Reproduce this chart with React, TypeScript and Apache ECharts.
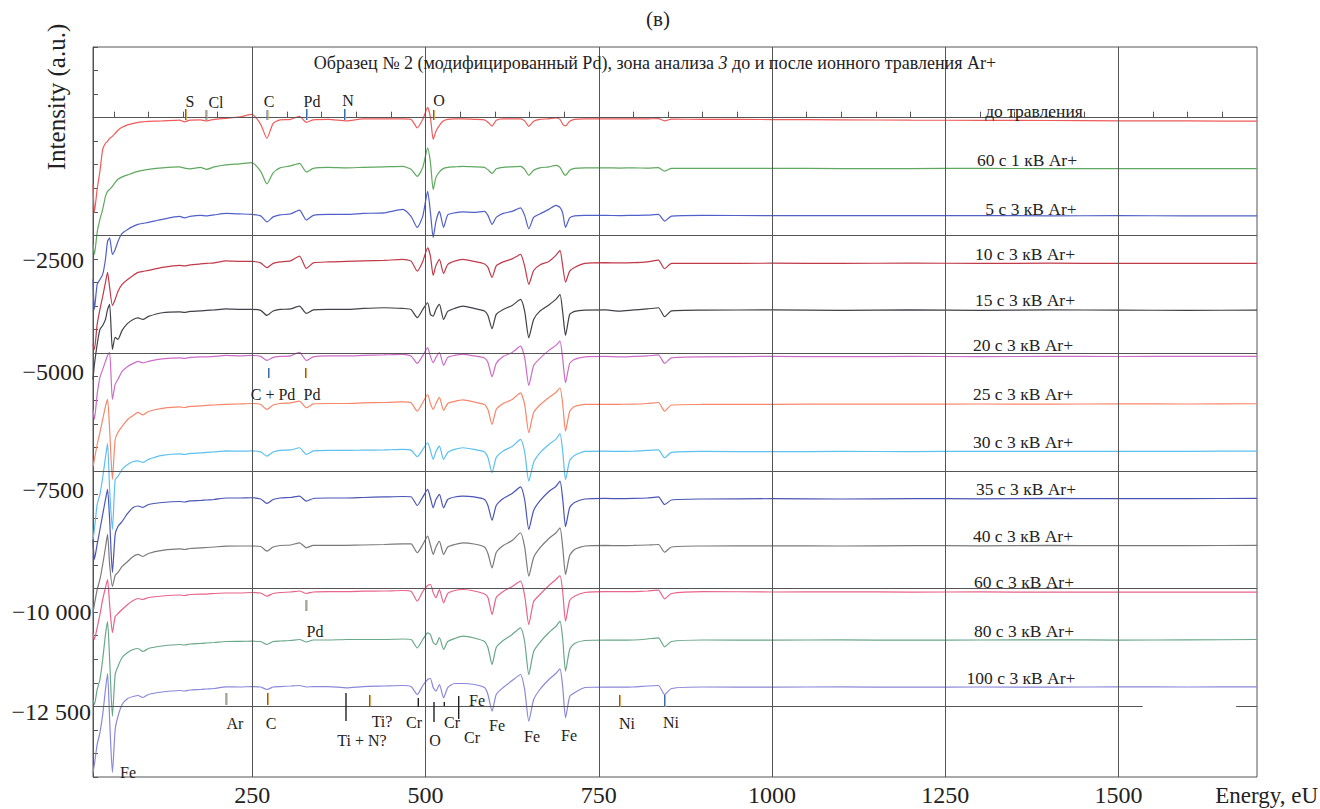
import React, { useEffect, useRef } from 'react';
import * as echarts from 'echarts';

// Energy grid (eV) shared by all spectra
const ENERGY = [20, 22, 26, 30, 34, 38, 41, 44, 48, 52, 56, 62, 70, 78, 85, 92, 100, 120, 145, 152, 160, 175, 184, 195, 212, 232, 249, 262, 271, 280, 290, 305, 318, 328, 338, 360, 386, 410, 440, 467, 479, 488, 496, 503, 507, 511, 515, 520, 526, 532, 542, 554, 570, 585, 590, 596, 602, 612, 625, 637, 643, 649, 656, 665, 678, 688, 694, 698, 702, 708, 715, 730, 760, 780, 800, 820, 836, 845, 855, 900, 1000, 1100, 1200, 1300, 1400, 1500, 1600, 1700];

// Baseline level of each spectrum (a.u.)
const OFFSETS = [-74, -1083, -2086, -3095, -4087, -5091, -6090, -7098, -8116, -9116, -10104, -11123, -12121];

// Deviation of each spectrum from its baseline (a.u.)
const DEV_1 = [-1342, -1937, -1445, -1062, -600, -470, -430, -365, -323, -260, -195, -132, -80, -47, -25, -15, -5, 5, 23, -15, 23, 28, 6, 38, 60, 90, 144, -68, -365, -47, 28, 38, 102, -25, 28, 38, 6, 49, 49, 49, 38, -142, 38, 293, 81, -387, -217, -89, 6, 38, 49, 49, 38, 28, -25, -104, 17, 49, 49, 49, 6, -110, -4, 38, 49, 70, 38, -68, -100, -4, 38, 49, 49, 49, 49, 49, 53, 6, 42, 38, 34, 28, 21, 17, 13, 6, 4, 0];
const DEV_2 = [-1608, -1820, -1353, -1077, -864, -588, -482, -440, -376, -291, -227, -174, -132, -89, -57, -36, -15, 17, 38, 11, -4, 28, -15, 38, 81, 102, 127, -57, -323, -89, 17, 59, 113, -72, 6, 28, 17, 28, 38, 49, -15, -164, 28, 442, 134, -440, -185, -68, 6, 28, 38, 49, 38, 28, -25, -100, -4, 28, 38, 49, -15, -142, -36, 17, 38, 70, 28, -79, -142, -36, 6, 17, 17, 13, 17, 11, 21, -51, 6, 6, 6, 2, 2, 6, 0, 0, 2, 0];
const DEV_3 = [-1349, -1986, -1455, -1349, -1243, -920, -542, -467, -818, -712, -542, -372, -287, -223, -180, -159, -138, -74, -11, -42, -11, 11, 0, 21, 53, 42, 32, 0, -127, -21, 21, 42, 123, -89, 11, 32, 32, 53, 64, 138, -11, -244, -4, 520, 74, -457, -117, 96, -244, 21, 64, 85, 74, 96, 11, -180, -32, 53, 96, 170, 11, -276, -32, 42, 138, 223, 180, 53, -244, -42, 0, 11, 11, 6, 11, 15, 32, -110, -4, 11, 6, 8, 4, 6, 2, 4, 2, 0];
const DEV_4 = [-1720, -1827, -1296, -977, -701, -404, -191, -510, -892, -765, -595, -446, -340, -255, -191, -170, -149, -85, -42, -53, -32, -11, 0, 11, 53, 42, 42, 11, -91, 0, 32, 53, 155, -106, 11, 32, 42, 53, 64, 85, 49, -164, 42, 333, 155, -255, -42, 85, -212, -21, 49, 85, 42, -11, -85, -297, -53, 32, 96, 191, -57, -446, -149, -32, 42, 170, 276, -64, -397, -164, -85, 0, 15, 11, 15, 32, 70, -113, 0, 0, 4, 0, 6, 0, 4, 0, 2, 0];
const DEV_5 = [-1472, -1160, -727, -409, -325, -197, 15, 121, -834, -579, -621, -430, -282, -198, -166, -198, -134, -55, -38, -49, -28, -17, -6, 4, 25, 15, 15, -6, -113, -17, 15, 25, 85, -70, 4, 15, 15, 36, 51, 36, 15, -161, 15, 157, -91, -127, 15, 121, -198, -28, 36, 85, 36, -17, -113, -395, -91, 15, 100, 227, -21, -586, -198, -21, 110, 227, 333, -55, -537, -91, -28, 0, 4, -21, 4, 25, 51, -140, -17, 0, 4, -4, 6, -6, 4, 0, -4, 0];
const DEV_6 = [-1105, -1317, -786, -425, -255, -85, 42, 106, -892, -573, -467, -297, -191, -127, -85, -117, -85, -32, -11, -21, 0, 11, 11, 21, 42, 32, 42, 21, -64, 0, 21, 32, 106, -64, 11, 32, 32, 42, 53, 64, 28, -127, 42, 206, 21, -113, 0, 100, -170, 0, 42, 64, 32, -11, -106, -410, -127, 21, 106, 240, 0, -595, -170, -21, 149, 255, 346, -42, -537, -127, -42, 11, 21, 11, 21, 32, 53, -127, -11, 11, 21, 15, 21, 17, 21, 19, 23, 21];
const DEV_7 = [-1317, -1168, -850, -595, -319, -42, 106, -531, -1593, -743, -595, -467, -319, -234, -170, -223, -149, -85, -53, -64, -42, -32, -21, -11, 0, 11, 21, 0, -106, -11, 21, 32, 70, -70, 11, 21, 21, 32, 42, 53, 36, -142, 42, 212, 21, -106, 21, 149, -127, 21, 64, 96, 53, 0, -106, -425, -106, 21, 106, 248, 0, -601, -170, -11, 149, 255, 355, 0, -567, -149, -42, 0, 0, 4, 6, 21, 42, -142, -11, 0, 4, 8, 6, 10, 8, 12, 10, 15];
const DEV_8 = [-1859, -1646, -1115, -903, -542, -117, 181, -797, -1646, -584, -520, -372, -266, -202, -191, -223, -159, -74, -42, -53, -32, -21, -11, 0, 21, 17, 21, 0, -89, 0, 32, 42, 89, -53, 21, 32, 32, 38, 42, 53, 38, -102, 53, 195, 32, -159, 11, 123, -159, -11, 53, 89, 53, 0, -117, -442, -117, 21, 117, 266, 0, -620, -223, -21, 159, 266, 387, 0, -584, -181, -74, 11, 17, 11, 17, 32, 42, -123, -11, 11, 6, 11, 8, 13, 10, 12, 14, 17];
const DEV_9 = [-841, -1266, -947, -629, -310, 8, 221, -416, -1542, -735, -565, -459, -289, -161, -130, -161, -98, -55, -34, -45, -23, -13, -2, 8, 40, 40, 45, 19, -76, 8, 40, 51, 79, -28, 30, 40, 40, 51, 62, 72, 66, -119, 62, 221, 40, -168, 8, 115, -168, 8, 62, 79, 62, 8, -119, -431, -119, 30, 136, 278, 8, -629, -225, -23, 178, 285, 397, 8, -571, -161, -55, 19, 30, 25, 30, 40, 62, -98, -2, 19, 25, 19, 28, 23, 30, 25, 28, 30];
const DEV_10 = [-1391, -1221, -903, -690, -372, -11, 266, -372, -839, -605, -542, -414, -308, -202, -159, -202, -138, -74, -42, -53, -32, -21, -11, 0, 17, 21, 21, 11, -89, 0, 32, 42, 89, -17, 32, 32, 36, 42, 53, 64, 68, -123, 53, 229, 42, -159, 0, 117, -159, 0, 53, 89, 64, 0, -138, -442, -117, 32, 138, 302, 0, -620, -223, -21, 181, 297, 408, -11, -584, -181, -53, 21, 32, 28, 32, 42, 53, -110, 0, 21, 25, 21, 30, 25, 32, 28, 30, 32];
const DEV_11 = [-828, -977, -722, -446, -127, 127, 297, -234, -828, -489, -425, -340, -234, -149, -106, -127, -85, -53, -32, -42, -21, -11, -11, 0, 11, 11, 21, 11, -57, 0, 21, 32, 53, 0, 32, 42, 42, 49, 53, 64, 49, -164, 42, 170, 191, 21, -91, 85, -198, 0, 64, 85, 53, -11, -85, -446, -85, 42, 149, 261, -42, -658, -170, -21, 170, 297, 382, 21, -588, -149, -57, 21, 42, 38, 42, 53, 70, -113, 0, 42, 32, 36, 30, 34, 28, 32, 30, 28];
const DEV_12 = [-1232, -1338, -1020, -807, -382, 149, 425, -382, -1587, -701, -531, -340, -234, -170, -149, -212, -149, -96, -64, -74, -53, -42, -32, -21, 0, 4, 6, 0, -64, 0, 11, 21, 42, -11, 32, 32, 42, 42, 42, 53, 42, -134, 42, 185, 149, -21, -64, 85, -170, 0, 64, 113, 74, 0, -127, -488, -127, 21, 149, 291, 0, -701, -212, -21, 191, 319, 431, 42, -631, -170, -42, 21, 32, 28, 32, 53, 79, -113, 0, 32, 30, 34, 28, 32, 36, 30, 34, 42];
const DEV_13 = [-1784, -1614, -1190, -935, -552, -21, 319, -658, -1784, -871, -595, -340, -212, -170, -149, -191, -127, -74, -42, -53, -32, -21, -11, 0, 36, 32, 42, 32, -21, 32, 42, 53, 64, 32, 42, 42, 15, 42, 53, 64, 42, -127, 64, 191, 212, 21, -57, 85, -198, 21, 106, 106, 85, 21, -127, -482, -127, 21, 170, 297, -21, -695, -234, -21, 191, 319, 418, 21, -622, -170, -91, 21, 32, 28, 32, 53, 64, -127, 0, 32, 30, 34, 28, 32, 30, 34, 32, 36];

const DEVS = [DEV_1, DEV_2, DEV_3, DEV_4, DEV_5, DEV_6, DEV_7, DEV_8, DEV_9, DEV_10, DEV_11, DEV_12, DEV_13];

const SERIES_NAMES = ['до травления', '60 с 1 кВ Ar+', '5 с 3 кВ Ar+', '10 с 3 кВ Ar+', '15 с 3 кВ Ar+', '20 с 3 кВ Ar+', '25 с 3 кВ Ar+', '30 с 3 кВ Ar+', '35 с 3 кВ Ar+', '40 с 3 кВ Ar+', '60 с 3 кВ Ar+', '80 с 3 кВ Ar+', '100 с 3 кВ Ar+'];
const SERIES_COLORS = ['#ef5b5b', '#5fa85f', '#5060c8', '#c03a4a', '#404048', '#cc6cc8', '#f7876a', '#5cc0f0', '#4a55b5', '#7a7a7a', '#e8648a', '#6aa88a', '#8a88d8'];
const LABEL_X = [1034, 1027, 1031, 1025, 1025, 1023, 1023, 1023, 1026, 1023, 1024, 1024, 1021];
const LABEL_Y = [111, 160, 209, 254, 300, 345, 394, 442, 489, 536, 582, 631, 678];

const X_TICK_LABELS = [250, 500, 750, 1000, 1250, 1500];
const X_MINOR_TICKS = [50, 100, 150, 200, 250, 300, 350, 400, 450, 500, 550, 600, 650, 700, 750, 800, 850, 900, 950, 1000, 1050, 1100, 1150, 1200, 1250, 1300, 1350, 1400, 1450, 1500, 1550, 1600, 1650];
const Y_GRID = [0, -2500, -5000, -7500, -10000];
const Y_TICK_LABELS = ['−2500', '−5000', '−7500', '−10 000', '−12 500'];
const Y_LABEL_POS = [[84, 260], [84, 372], [84, 490], [91.5, 612], [91, 712]];

// element annotations: text, x, y (px)
const ANNOT_TEXT = [
  ['S', 190, 101], ['Cl', 216, 102], ['C', 269, 101], ['Pd', 312, 101], ['N', 348, 100], ['O', 439, 100],
  ['C + Pd', 273, 394], ['Pd', 312, 394], ['Pd', 315, 631],
  ['Ar', 235, 723], ['C', 271, 723], ['Ti + N?', 362, 740], ['Ti?', 382, 721], ['Cr', 414, 722],
  ['O', 435, 740], ['Cr', 452, 722], ['Fe', 477, 700], ['Cr', 472, 737], ['Fe', 497, 725],
  ['Fe', 532, 736], ['Fe', 569, 735], ['Ni', 627, 723], ['Ni', 671, 722], ['Fe', 128, 772]
];
// colored marker ticks: x, y1, y2
const ANNOT_TICKS = [
  [186, 109, 120], [206.5, 110, 120], [267.5, 110, 120], [307, 109, 120], [345, 109, 120], [434, 110, 120],
  [269, 368, 378], [306, 368, 378], [306.5, 600, 611],
  [226.5, 693, 705], [268, 693, 705], [370, 695, 706], [620, 695, 707], [665, 695, 707]
];
// black marker lines: x, y1, y2
const ANNOT_BLACK = [[346, 693, 721], [418.3, 698, 707], [434, 702, 722], [444.3, 702, 706], [458.7, 696, 719]];

const FONT = '"Liberation Serif", "Times New Roman", serif';

export default function App() {
  const ref = useRef<HTMLDivElement>(null);
  useEffect(() => {
    if (!ref.current) return;
    const chart = echarts.init(ref.current, undefined, { renderer: 'svg' });

    const series: any[] = DEVS.map((dev, i) => ({
      type: 'line',
      name: SERIES_NAMES[i],
      data: ENERGY.map((e, j) => [e, OFFSETS[i] + dev[j]]),
      showSymbol: false,
      symbol: 'none',
      smooth: 0.2,
      z: 3,
      lineStyle: { width: 1.2, color: SERIES_COLORS[i] },
      itemStyle: { color: SERIES_COLORS[i] },
    }));

    series.unshift({
      type: 'line',
      name: 'grid',
      data: [],
      z: 1,
      silent: true,
      markLine: {
        silent: true,
        symbol: ['none', 'none'],
        label: { show: false },
        lineStyle: { color: '#555555', width: 1, type: 'solid' },
        emphasis: { disabled: true },
        data: [
          ...X_TICK_LABELS.map((v) => ({ xAxis: v })),
          ...Y_GRID.map((v) => ({ yAxis: v })),
          [{ coord: [20, -12500] }, { coord: [1535, -12500] }],
          [{ coord: [1670, -12500] }, { coord: [1700, -12500] }],
        ],
      },
    });

    const txt = (text: string, x: number, y: number, size: number, align = 'center', extra: any = {}) => ({
      type: 'text',
      x,
      y,
      silent: true,
      z: 10,
      ...extra,
      style: {
        text,
        fontSize: size,
        fontFamily: FONT,
        fill: '#222',
        align,
        textAlign: align,
        verticalAlign: 'middle',
        textVerticalAlign: 'middle',
      },
    });

    const graphics: any[] = [];
    graphics.push(txt('(в)', 658, 19, 21));
    graphics.push({
      type: 'text',
      x: 655,
      y: 63,
      silent: true,
      z: 10,
      style: {
        text: '{n|Образец № 2 (модифицированный Pd), зона анализа }{i|3}{n| до и после ионного травления Ar+}',
        align: 'center',
        textAlign: 'center',
        verticalAlign: 'middle',
        textVerticalAlign: 'middle',
        fontSize: 18,
        fontFamily: FONT,
        fill: '#222',
        rich: {
          n: { fontSize: 18, fontFamily: FONT, fill: '#222', color: '#222' },
          i: { fontSize: 18, fontFamily: FONT, fontStyle: 'italic', fill: '#222', color: '#222' },
        },
      },
    });
    graphics.push(txt('Intensity (a.u.)', 56, 97, 25, 'center', { rotation: Math.PI / 2 }));
    graphics.push(txt('Energy, eU', 1318, 795, 23, 'right'));
    Y_TICK_LABELS.forEach((t, i) => graphics.push(txt(t, Y_LABEL_POS[i][0], Y_LABEL_POS[i][1], 24, 'right')));
    SERIES_NAMES.forEach((t, i) => graphics.push(txt(t, LABEL_X[i], LABEL_Y[i], 17.5)));
    ANNOT_TEXT.forEach((a) => graphics.push(txt(a[0] as string, a[1] as number, a[2] as number, 16)));
    ANNOT_TICKS.forEach((t) => {
      graphics.push({ type: 'rect', silent: true, z: 9, shape: { x: t[0] - 1, y: t[1], width: 1.1, height: t[2] - t[1] }, style: { fill: '#3d6ea8' } });
      graphics.push({ type: 'rect', silent: true, z: 9, shape: { x: t[0] + 0.1, y: t[1], width: 1.0, height: t[2] - t[1] }, style: { fill: '#d9a050' } });
    });
    ANNOT_BLACK.forEach((t) => {
      graphics.push({ type: 'line', silent: true, z: 9, shape: { x1: t[0], y1: t[1], x2: t[0], y2: t[2] }, style: { stroke: '#222', lineWidth: 1.4 } });
    });

    chart.setOption({
      animation: false,
      backgroundColor: '#ffffff',
      grid: { left: 93, right: 63, top: 47, bottom: 32, show: true, borderColor: '#555555', borderWidth: 1, backgroundColor: 'transparent' },
      xAxis: {
        type: 'value',
        min: 20,
        max: 1700,
        axisLine: { show: true, lineStyle: { color: '#555555', width: 1 } },
        axisTick: { show: true, inside: true, length: 6, customValues: X_MINOR_TICKS, lineStyle: { color: '#555555' } },
        axisLabel: {
          show: true,
          customValues: X_TICK_LABELS,
          formatter: (v: number) => String(v),
          fontSize: 24,
          fontFamily: FONT,
          color: '#222',
          margin: 6,
        },
        splitLine: { show: false },
      },
      yAxis: {
        type: 'value',
        min: -14000,
        max: 1500,
        interval: 500,
        axisLine: { show: true, lineStyle: { color: '#555555', width: 1 } },
        axisTick: { show: true, inside: true, length: 5, lineStyle: { color: '#555555' } },
        axisLabel: { show: false },
        splitLine: { show: false },
      },
      series,
      graphic: graphics,
    });
    return () => chart.dispose();
  }, []);
  return <div ref={ref} style={{ position: 'absolute', left: 0, top: 0, width: 1320, height: 809, background: '#fff' }} />;
}
